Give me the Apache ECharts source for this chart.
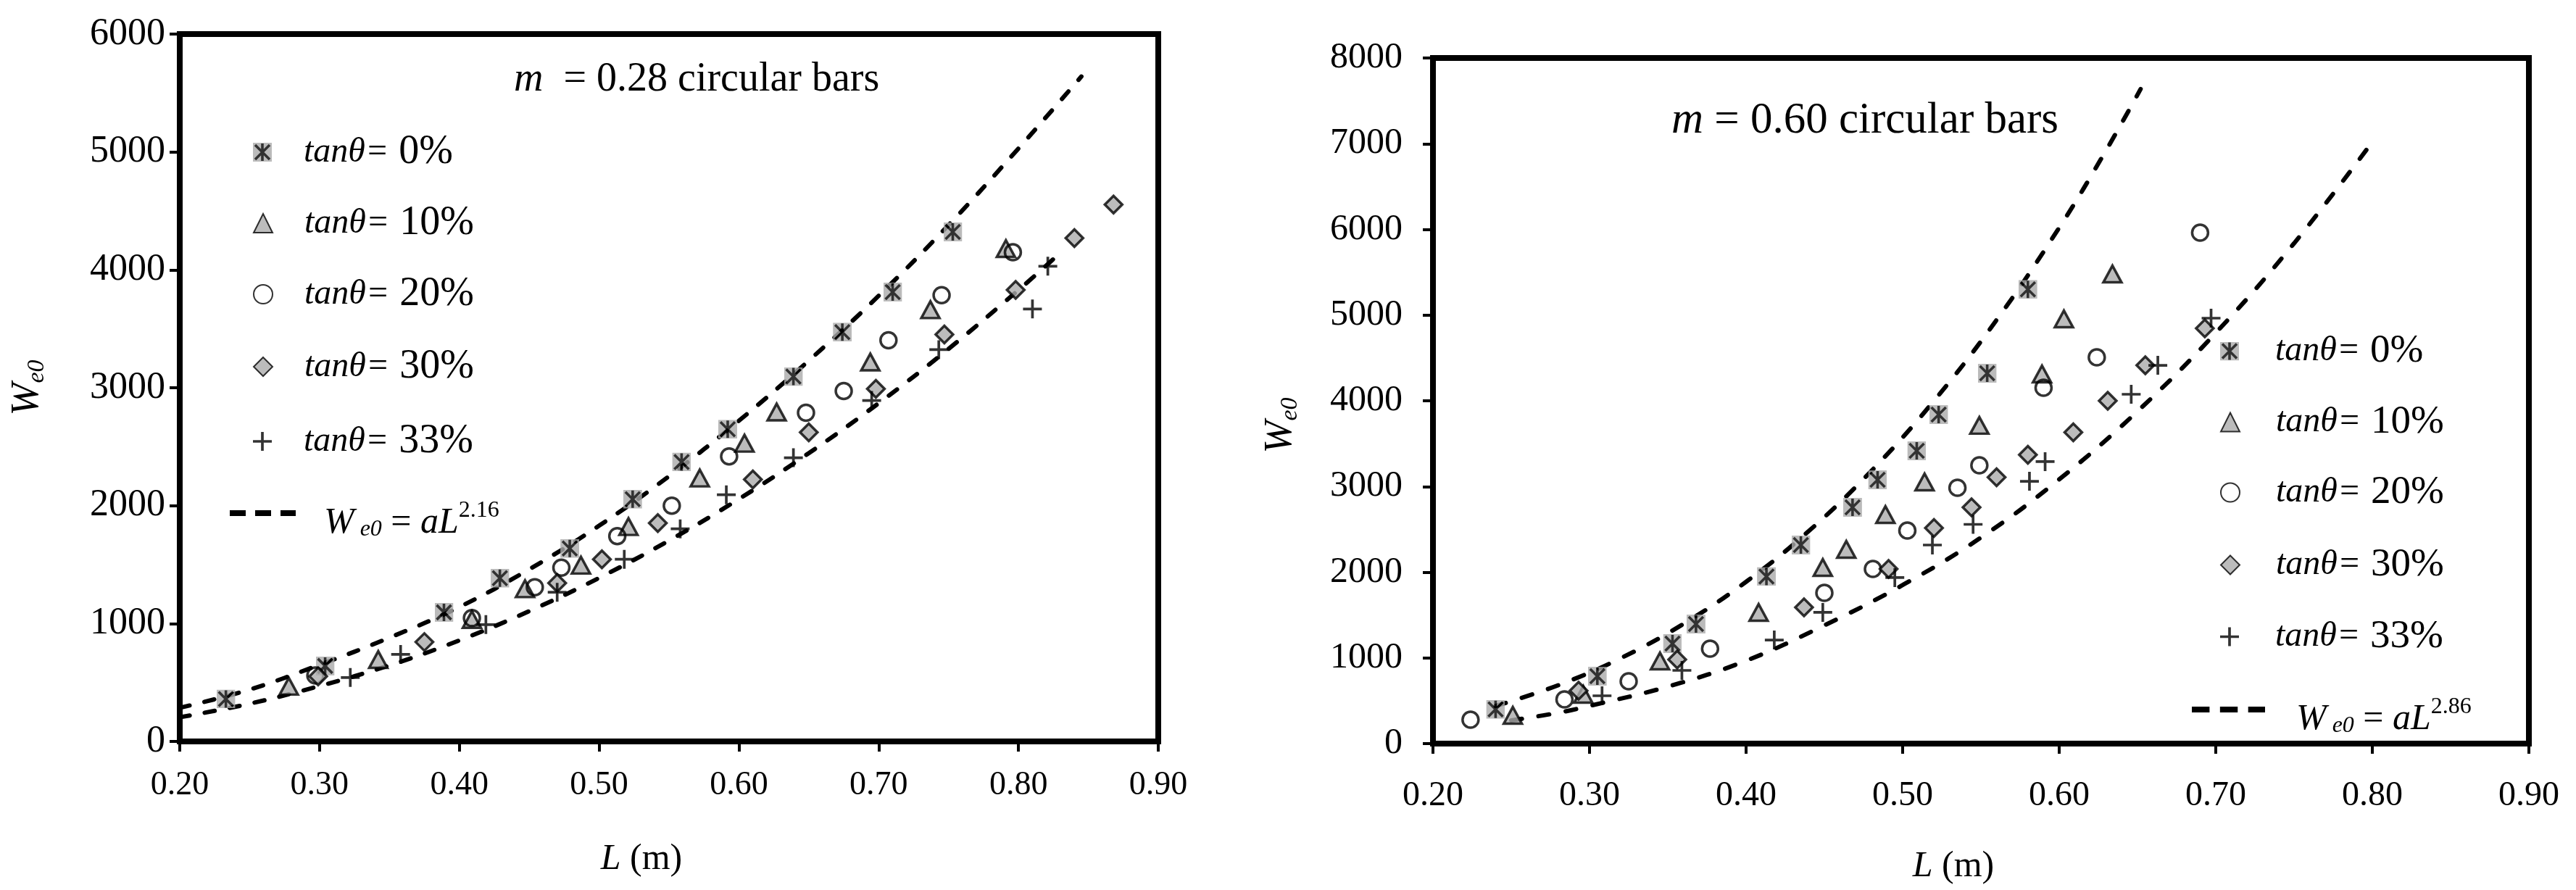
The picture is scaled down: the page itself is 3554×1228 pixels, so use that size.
<!DOCTYPE html>
<html>
<head>
<meta charset="utf-8">
<title>We0 - L</title>
<script src="https://cdn.jsdelivr.net/npm/echarts@6/dist/echarts.min.js"></script>
<style>
  html, body { margin: 0; padding: 0; background: #fff; }
  #chart { width: 3554px; height: 1228px; }
</style>
</head>
<body>
<div id="chart"></div>
<script>
// axis ticks
const lTickLabels = ["0.20", "0.30", "0.40", "0.50", "0.60", "0.70", "0.80", "0.90"];
const wTicksLeft = [0, 1000, 2000, 3000, 4000, 5000, 6000];
const wTicksRight = [0, 1000, 2000, 3000, 4000, 5000, 6000, 7000, 8000];

// legend labels (tanθ)
const slopeLabels = ["0%", "10%", "20%", "30%", "33%"];

// m = 0.28 circular bars, [L, We0]
const left0 = [[0.233, 360], [0.304, 640], [0.389, 1095], [0.429, 1385], [0.479, 1637], [0.524, 2055], [0.559, 2370], [0.592, 2648], [0.639, 3095], [0.674, 3472], [0.710, 3812], [0.753, 4322]];
const left10 = [[0.278, 468], [0.342, 695], [0.409, 1034], [0.447, 1295], [0.487, 1495], [0.521, 1822], [0.572, 2234], [0.604, 2529], [0.627, 2794], [0.694, 3218], [0.737, 3662], [0.791, 4180]];
const left20 = [[0.297, 560], [0.409, 1046], [0.454, 1308], [0.473, 1474], [0.513, 1741], [0.552, 2000], [0.593, 2418], [0.648, 2788], [0.675, 2972], [0.707, 3403], [0.745, 3785], [0.796, 4150]];
const left30 = [[0.299, 552], [0.375, 843], [0.470, 1343], [0.502, 1545], [0.542, 1852], [0.610, 2222], [0.650, 2622], [0.698, 2991], [0.747, 3452], [0.798, 3830], [0.840, 4270], [0.868, 4554]];
const left33 = [[0.322, 542], [0.358, 738], [0.419, 991], [0.470, 1265], [0.518, 1545], [0.558, 1803], [0.591, 2092], [0.639, 2406], [0.695, 2892], [0.743, 3323], [0.810, 3668], [0.821, 4031]];
// dashed fit curves
const leftFitUpper = [[0.20, 285], [0.25, 440], [0.30, 650], [0.35, 880], [0.40, 1140], [0.45, 1460], [0.50, 1830], [0.55, 2250], [0.60, 2720], [0.65, 3230], [0.70, 3780], [0.75, 4380], [0.80, 5030], [0.845, 5640]];
const leftFitLower = [[0.20, 205], [0.25, 320], [0.30, 470], [0.35, 645], [0.40, 857], [0.45, 1105], [0.50, 1387], [0.55, 1704], [0.60, 2056], [0.65, 2445], [0.70, 2869], [0.75, 3330], [0.80, 3829], [0.827, 4113]];

// m = 0.60 circular bars, [L, We0]
const right0 = [[0.240, 400], [0.305, 786], [0.353, 1167], [0.368, 1395], [0.413, 1950], [0.435, 2317], [0.468, 2757], [0.484, 3078], [0.509, 3416], [0.523, 3839], [0.554, 4321], [0.580, 5300]];
const right10 = [[0.251, 330], [0.296, 575], [0.345, 964], [0.408, 1531], [0.449, 2055], [0.464, 2266], [0.489, 2672], [0.514, 3053], [0.549, 3713], [0.589, 4313], [0.603, 4956], [0.634, 5480]];
const right20 = [[0.224, 279], [0.284, 516], [0.325, 727], [0.377, 1108], [0.450, 1759], [0.481, 2038], [0.503, 2486], [0.535, 2985], [0.549, 3247], [0.590, 4152], [0.624, 4507], [0.690, 5962]];
const right30 = [[0.293, 617], [0.356, 981], [0.437, 1590], [0.491, 2038], [0.520, 2516], [0.544, 2757], [0.560, 3108], [0.580, 3370], [0.609, 3632], [0.631, 4000], [0.655, 4414], [0.693, 4846]];
const right33 = [[0.308, 558], [0.359, 854], [0.418, 1209], [0.449, 1531], [0.495, 1937], [0.519, 2317], [0.545, 2558], [0.581, 3061], [0.591, 3290], [0.646, 4076], [0.663, 4414], [0.697, 4964]];
const rightFitUpper = [[0.24, 438], [0.28, 681], [0.32, 997], [0.36, 1397], [0.40, 1888], [0.44, 2479], [0.48, 3181], [0.52, 3999], [0.56, 4943], [0.60, 6020], [0.63, 6924], [0.652, 7637]];
const rightFitLower = [[0.25, 270], [0.28, 360], [0.30, 440], [0.35, 665], [0.40, 967], [0.45, 1380], [0.50, 1850], [0.55, 2404], [0.60, 3083], [0.65, 3877], [0.70, 4792], [0.75, 5837], [0.80, 7020]];

const FONT = "'Liberation Serif', 'Times New Roman', serif";
const GRAY = "#ababab";

// gray square with black asterisk (Excel style marker)
const starSvg = "<svg xmlns='http://www.w3.org/2000/svg' width='52' height='52' viewBox='0 0 26 26'>" +
  "<rect x='0' y='0' width='26' height='26' fill='" + GRAY + "'/>" +
  "<path d='M3,3 L23,23 M23,3 L3,23 M13,1 L13,25' stroke='#000' stroke-width='3.6' fill='none'/></svg>";

const markers = [
  { symbol: "image://data:image/svg+xml;utf8," + encodeURIComponent(starSvg), size: 26, style: {} },
  { symbol: "triangle", size: [25, 23], style: { color: GRAY, borderColor: "#000", borderWidth: 3.5 } },
  { symbol: "circle", size: 22, style: { color: "rgba(0,0,0,0)", borderColor: "#000", borderWidth: 3.5 } },
  { symbol: "diamond", size: [24, 24], style: { color: GRAY, borderColor: "#000", borderWidth: 3.5 } },
  { symbol: "path://M-2,-14H2V14H-2Z M-14,-2H14V2H-14Z", size: 26, style: { color: "#000" } },
];

const leftSets = [left0, left10, left20, left30, left33];
const rightSets = [right0, right10, right20, right30, right33];
const leftNames = slopeLabels.map((s) => "L-" + s);
const rightNames = slopeLabels.map((s) => "R-" + s);

function scatter(name, data, gi, k) {
  return {
    name: name,
    type: "scatter",
    xAxisIndex: gi,
    yAxisIndex: gi,
    data: data,
    symbol: markers[k].symbol,
    symbolSize: markers[k].size,
    itemStyle: markers[k].style,
    silent: true,
    z: 3,
  };
}

function fitLine(name, data, gi, dash) {
  return {
    name: name,
    type: "line",
    xAxisIndex: gi,
    yAxisIndex: gi,
    data: data,
    smooth: 0.4,
    symbol: "none",
    silent: true,
    z: 2,
    color: "#000",
    itemStyle: { color: "#000" },
    lineStyle: { color: "#000", width: 6, type: dash, cap: "round" },
  };
}

function xAxis(gi, labelSize, margin, nameGap) {
  return {
    gridIndex: gi,
    type: "value",
    min: +lTickLabels[0],
    max: +lTickLabels[lTickLabels.length - 1],
    interval: 0.1,
    axisLine: { show: true, lineStyle: { color: "#000", width: 8 } },
    axisTick: { show: true, inside: false, length: 14, lineStyle: { color: "#000", width: 4 } },
    splitLine: { show: false },
    axisLabel: {
      color: "#000", fontFamily: FONT, fontSize: labelSize, margin: margin,
      formatter: (v) => lTickLabels[Math.round((v - 0.2) * 10)] || v.toFixed(2),
    },
    name: "{i|L} (m)",
    nameLocation: "middle",
    nameGap: nameGap,
    nameTextStyle: {
      color: "#000", fontFamily: FONT, fontSize: 50, verticalAlign: "middle", padding: [0, 76, 0, 0],
      rich: { i: { fontFamily: FONT, fontStyle: "italic", fontSize: 50 } },
    },
  };
}

function yAxis(gi, ticks, labelSize, margin, namePad) {
  return {
    gridIndex: gi,
    type: "value",
    min: ticks[0],
    max: ticks[ticks.length - 1],
    interval: ticks[1] - ticks[0],
    axisLine: { show: true, lineStyle: { color: "#000", width: 8 } },
    axisTick: { show: true, inside: false, length: 14, lineStyle: { color: "#000", width: 4 } },
    splitLine: { show: false },
    axisLabel: { color: "#000", fontFamily: FONT, fontSize: labelSize, margin: margin, formatter: (v) => String(v) },
    name: "{w|W}{s|e0}",
    nameLocation: "middle",
    nameGap: 210,
    nameTextStyle: {
      color: "#000", fontFamily: FONT, verticalAlign: "middle", padding: namePad,
      rich: {
        w: { fontFamily: FONT, fontStyle: "italic", fontSize: 54 },
        s: { fontFamily: FONT, fontStyle: "italic", fontSize: 34, padding: [26, 0, 0, 0] },
      },
    },
  };
}

// tanθ legend: one legend per row so each row sits exactly
function slopeLegends(names, iconCenter, textStart, rows, iSize, nSize) {
  return names.map((name, k) => ({
    data: [{ name: name }],
    left: iconCenter - 13,
    top: rows[k] - 29,
    padding: 0,
    itemWidth: 26,
    itemHeight: 26,
    selectedMode: false,
    formatter: (n) => "{sp|}{i|tanθ=} {n|" + n.slice(2) + "}",
    textStyle: {
      color: "#000",
      fontFamily: FONT,
      fontSize: nSize,
      rich: {
        sp: { width: textStart - (iconCenter + 13 + 5) },
        i: { fontFamily: FONT, fontStyle: "italic", fontSize: iSize, lineHeight: 60 },
        n: { fontFamily: FONT, fontSize: nSize, lineHeight: 60 },
      },
    },
  }));
}

// dashed line legend: W_e0 = aL^n
function fitLegend(name, expo, left, row, lineLen, textStart) {
  const d = lineLen / 91;
  const icon = "path://M0,0H" + 22 * d + "V8H0Z M" + 35 * d + ",0H" + 57 * d + "V8H" + 35 * d + "Z M" + 70 * d + ",0H" + lineLen + "V8H" + 70 * d + "Z";
  return {
    data: [{ name: name, icon: icon, itemStyle: { color: "#000", borderWidth: 0 } }],
    left: left,
    top: row - 24,
    padding: 0,
    itemWidth: lineLen,
    itemHeight: 8,
    selectedMode: false,
    formatter: () => "{sp|}{w|W}{s| e0}{eq| = }{a|aL}{p|" + expo + "}",
    textStyle: {
      color: "#000",
      fontFamily: FONT,
      fontSize: 50,
      rich: {
        sp: { width: textStart - (left + lineLen + 5), height: 78, verticalAlign: "bottom" },
        w: { fontFamily: FONT, fontStyle: "italic", fontSize: 50, verticalAlign: "bottom" },
        s: { fontFamily: FONT, fontStyle: "italic", fontSize: 32, padding: [20, 0, 0, 0], verticalAlign: "bottom" },
        eq: { fontFamily: FONT, fontSize: 50, verticalAlign: "bottom" },
        a: { fontFamily: FONT, fontStyle: "italic", fontSize: 50, verticalAlign: "bottom" },
        p: { fontFamily: FONT, fontSize: 32, padding: [0, 0, 26, 0], verticalAlign: "bottom" },
      },
    },
  };
}

const myChart = echarts.init(document.getElementById("chart"), null, { renderer: "canvas" });

const series = [];
leftSets.forEach((d, k) => series.push(scatter(leftNames[k], d, 0, k)));
rightSets.forEach((d, k) => series.push(scatter(rightNames[k], d, 1, k)));
series.push(fitLine("fitL", leftFitUpper, 0, [14, 21]));
series.push(fitLine("fitL2", leftFitLower, 0, [14, 21]));
series.push(fitLine("fitR", rightFitUpper, 1, [15, 23]));
series.push(fitLine("fitR2", rightFitLower, 1, [15, 23]));

myChart.setOption({
  animation: false,
  backgroundColor: "#fff",
  title: [
    {
      text: "{i|m}  = 0.28 circular bars",
      left: 704,
      top: 77,
      textStyle: {
        color: "#000", fontFamily: FONT, fontSize: 56, fontWeight: "normal",
        rich: { i: { fontFamily: FONT, fontStyle: "italic", fontSize: 56 } },
      },
    },
    {
      text: "{i|m} = 0.60 circular bars",
      left: 2301,
      top: 131,
      textStyle: {
        color: "#000", fontFamily: FONT, fontSize: 61, fontWeight: "normal",
        rich: { i: { fontFamily: FONT, fontStyle: "italic", fontSize: 61 } },
      },
    },
  ],
  // 两个图的绘图区，外框加粗
  grid: [
    { left: 248, top: 47, width: 1350, height: 976, show: true, borderColor: "#000", borderWidth: 8 },
    { left: 1977, top: 80, width: 1512, height: 946, show: true, borderColor: "#000", borderWidth: 8 },
  ],
  xAxis: [xAxis(0, 46, 38, 163), xAxis(1, 48, 48, 170)],
  yAxis: [yAxis(0, wTicksLeft, 52, 20, [0, 0, 0, 0]), yAxis(1, wTicksRight, 50, 42, [0, 68, 0, 0])],
  legend: [].concat(
    slopeLegends(leftNames, 362, 419, [211, 309, 407, 507, 610], 48, 56),
    [fitLegend("fitL", "2.16", 317, 707, 91, 447)],
    slopeLegends(rightNames, 3076, 3139, [486, 584, 681, 781, 880], 48, 55),
    [fitLegend("fitR", "2.86", 3024, 978, 101, 3168)]
  ),
  series: series,
});
</script>
</body>
</html>
